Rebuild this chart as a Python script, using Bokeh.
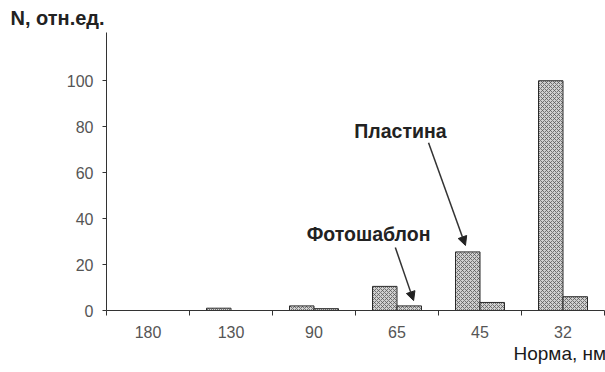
from bokeh.plotting import figure
from bokeh.models import FixedTicker, Label, Arrow, NormalHead, ColumnDataSource, Range1d, Title
from bokeh.embed import file_html
from bokeh.resources import INLINE
import numpy as np

categories = ["180", "130", "90", "65", "45", "32"]
plastina = [0, 1, 2, 10.5, 25.5, 100]
fotoshablon = [0, 0, 0.8, 2, 3.5, 6]
y_ticks = [0, 20, 40, 60, 80, 100]

centers = np.arange(len(categories)) + 0.5
bw = 0.295

p = figure(width=605, height=372, output_backend="svg", toolbar_location=None,
           x_range=Range1d(0, len(categories)), y_range=Range1d(0, 121),
           min_border_left=106, min_border_right=1, min_border_top=32, min_border_bottom=62)
p.outline_line_color = None
p.grid.grid_line_color = None

src1 = ColumnDataSource(dict(x=centers - bw / 2, top=plastina))
src2 = ColumnDataSource(dict(x=centers + bw / 2, top=fotoshablon))
for src in (src1, src2):
    p.vbar(x="x", top="top", bottom=0, width=bw, source=src,
           fill_color="#d0d0d0", line_color="#2a2a2a", line_width=1,
           hatch_pattern="x", hatch_color="#5a5a5a", hatch_scale=4, hatch_weight=0.8)

font = "Liberation Sans"

xa = p.xaxis[0]
xa.ticker = FixedTicker(ticks=list(centers), minor_ticks=list(range(len(categories) + 1)))
xa.major_label_overrides = {float(c): lab for c, lab in zip(centers, categories)}
xa.major_tick_line_color = None
xa.major_tick_out = 0
xa.major_tick_in = 0
xa.minor_tick_out = 5
xa.minor_tick_in = 0
xa.minor_tick_line_color = "#333333"
xa.axis_line_color = "#333333"
xa.major_label_standoff = 10
xa.major_label_text_font = font
xa.major_label_text_font_size = "16px"
xa.major_label_text_color = "#555555"

ya = p.yaxis[0]
ya.ticker = FixedTicker(ticks=y_ticks, minor_ticks=[])
ya.major_tick_out = 4
ya.major_tick_in = 0
ya.major_tick_line_color = "#333333"
ya.axis_line_color = "#333333"
ya.major_label_standoff = 9
ya.major_label_text_font = font
ya.major_label_text_font_size = "16px"
ya.major_label_text_color = "#555555"

p.add_layout(Title(text="N, отн.ед.", align="left", offset=-96, text_font=font,
                   text_font_size="20px", text_font_style="bold", text_color="#222222",
                   standoff=7), "above")
p.add_layout(Title(text="Норма, нм", align="left", offset=407, text_font=font,
                   text_font_size="19px", text_font_style="normal", text_color="#1a1a1a",
                   standoff=0), "below")

p.add_layout(Label(x=3.542, y=78.3, text="Пластина", text_font=font, text_font_size="19.5px",
                   text_font_style="bold", text_color="#222222", text_baseline="middle",
                   text_align="center"))
p.add_layout(Label(x=3.157, y=33.5, text="Фотошаблон", text_font=font, text_font_size="19.5px",
                   text_font_style="bold", text_color="#222222", text_baseline="middle",
                   text_align="center"))

p.add_layout(Arrow(x_start=3.88, y_start=73, x_end=4.325, y_end=28.3, line_color="#333333",
                   line_width=1.5, end=NormalHead(size=9, fill_color="#222222", line_color="#222222")))
p.add_layout(Arrow(x_start=3.48, y_start=27.4, x_end=3.70, y_end=4.3, line_color="#333333",
                   line_width=1.5, end=NormalHead(size=9, fill_color="#222222", line_color="#222222")))

open("out.html", "w").write(file_html(p, INLINE))
